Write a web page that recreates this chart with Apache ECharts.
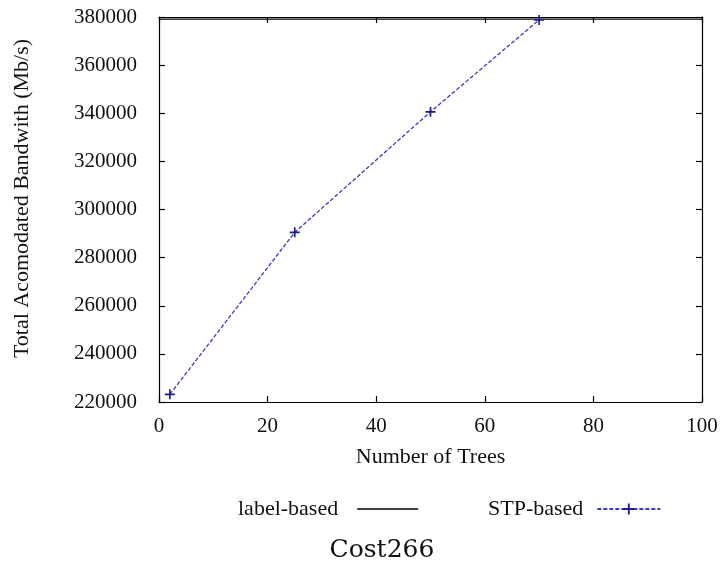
<!DOCTYPE html>
<html>
<head>
<meta charset="utf-8">
<script src="https://cdn.jsdelivr.net/npm/echarts@6/dist/echarts.min.js"></script>
<style>html,body{margin:0;padding:0;background:#fff}#c{width:726px;height:566px}</style>
</head>
<body>
<div id="c"></div>
<script>
var stpX = [2, 25, 50, 70];
var stpY = [223200, 290500, 340600, 378800];
var labelX = [0, 25, 50, 75, 100];
var labelY = [379100, 379100, 379100, 379100, 379100];
var xTicks = [0, 20, 40, 60, 80, 100];
var yTicks = [220000, 240000, 260000, 280000, 300000, 320000, 340000, 360000, 380000];

var serif = '"Liberation Serif", "Times New Roman", serif';
function pairs(xs, ys) { return xs.map(function (x, i) { return [x, ys[i]]; }); }

var chart = echarts.init(document.getElementById('c'));
var plus = 'path://M5,0H7V5H12V7H7V12H5V7H0V5H5Z';
var axisCommon = {
  axisLine: { show: true, onZero: false, lineStyle: { color: '#000', width: 1.2 } },
  axisTick: { show: true, inside: true, length: 6, lineStyle: { color: '#000', width: 1.2 } },
  splitLine: { show: false }
};
chart.setOption({
  animation: false,
  backgroundColor: '#fff',
  title: {
    text: 'Cost266', left: 377, top: 533, textAlign: 'center',
    textStyle: { fontFamily: '"DejaVu Serif", serif', fontSize: 25, fontWeight: 'normal', color: '#111' }
  },
  legend: [{
    data: [{ name: 'label-based', icon: 'rect' }], left: 233, top: 493, align: 'right',
    itemWidth: 61, itemHeight: 1.4,
    textStyle: { fontFamily: serif, fontSize: 22, color: '#111', padding: [0, 14, 0, 0] }
  }, {
    data: ['STP-based'], left: 483, top: 493, align: 'right',
    itemWidth: 63, itemHeight: 14,
    textStyle: { fontFamily: serif, fontSize: 22, color: '#111', padding: [0, 9, 0, 0] }
  }],
  grid: { left: 159, right: 24, top: 17, bottom: 164 },
  xAxis: [Object.assign({
    type: 'value', min: 0, max: 100, interval: 20, position: 'bottom',
    name: 'Number of Trees', nameLocation: 'middle', nameGap: 44,
    nameTextStyle: { fontFamily: serif, fontSize: 22, color: '#111' },
    axisLabel: { margin: 14, fontFamily: serif, fontSize: 21, color: '#111',
      formatter: function (v) { return xTicks.indexOf(v) >= 0 ? String(v) : ''; } }
  }, axisCommon), Object.assign({
    type: 'value', min: 0, max: 100, interval: 20, position: 'top',
    axisLabel: { show: false }
  }, axisCommon)],
  yAxis: [Object.assign({
    type: 'value', min: 220000, max: 380000, interval: 20000, position: 'left',
    name: 'Total Acomodated Bandwith (Mb/s)', nameLocation: 'middle', nameGap: 126,
    nameTextStyle: { fontFamily: serif, fontSize: 22, color: '#111', padding: [0, 0, 0, 22] },
    axisLabel: { margin: 22, fontFamily: serif, fontSize: 21, color: '#111',
      formatter: function (v) { return yTicks.indexOf(v) >= 0 ? String(v) : ''; } }
  }, axisCommon), Object.assign({
    type: 'value', min: 220000, max: 380000, interval: 20000, position: 'right',
    axisLabel: { show: false }
  }, axisCommon)],
  series: [{
    name: 'label-based', type: 'line', data: pairs(labelX, labelY),
    showSymbol: false, symbol: 'none',
    lineStyle: { color: '#000', width: 1.2, type: 'solid' },
    itemStyle: { color: '#000' }
  }, {
    name: 'STP-based', type: 'line', data: pairs(stpX, stpY),
    symbol: plus, symbolSize: 10,
    lineStyle: { color: '#3b3bbf', width: 1.3, type: [4, 2] },
    itemStyle: { color: '#1c1c8c' }
  }]
});
</script>
</body>
</html>
